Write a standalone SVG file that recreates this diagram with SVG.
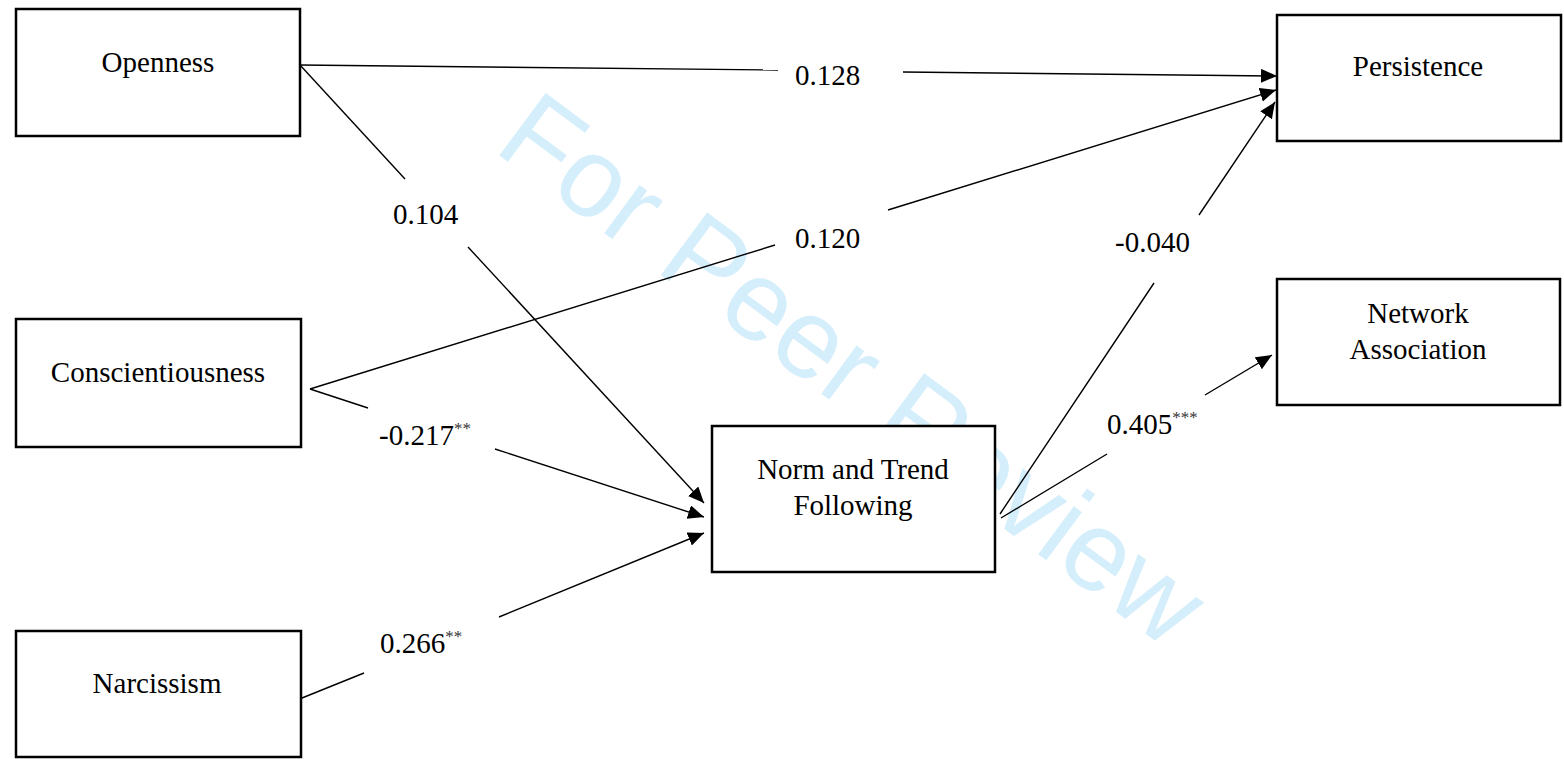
<svg xmlns="http://www.w3.org/2000/svg" width="1564" height="759" viewBox="0 0 1564 759">
<style>
.box{fill:#fff;stroke:#000;stroke-width:2.5}
.t{font-family:"Liberation Serif","Times New Roman",serif;font-size:29px;fill:#000;text-anchor:middle}
.l{font-family:"Liberation Serif","Times New Roman",serif;font-size:29px;fill:#000}
.sup{font-size:17px;fill:#333}
.c{stroke:#000;stroke-width:1.4;fill:none}
.wm{font-family:"Liberation Sans",Arial,sans-serif;font-size:113px;fill:#d4eefb}
</style>
<defs>
<marker id="ah" markerUnits="userSpaceOnUse" markerWidth="17" markerHeight="15" refX="16" refY="7" orient="auto">
<path d="M0,0 L16,7 L0,14 Z" fill="#000"/>
</marker>
</defs>
<rect width="1564" height="759" fill="#fff"/>
<text class="wm" transform="translate(492,150) rotate(36.5)">For Peer Review</text>
<g id="connectors">
<line class="c" x1="300" y1="65" x2="778" y2="70"/>
<line class="c" x1="903" y1="72" x2="1277" y2="76" marker-end="url(#ah)"/>
<line class="c" x1="300" y1="65" x2="405" y2="179"/>
<line class="c" x1="468" y1="247" x2="704" y2="503" marker-end="url(#ah)"/>
<line class="c" x1="310" y1="389" x2="775" y2="245"/>
<line class="c" x1="888" y1="210" x2="1276" y2="90" marker-end="url(#ah)"/>
<line class="c" x1="310" y1="389" x2="368" y2="408"/>
<line class="c" x1="495" y1="449" x2="704" y2="517" marker-end="url(#ah)"/>
<line class="c" x1="302" y1="698" x2="364" y2="673"/>
<line class="c" x1="499" y1="617" x2="704" y2="533" marker-end="url(#ah)"/>
<line class="c" x1="1000" y1="514" x2="1154" y2="283"/>
<line class="c" x1="1199" y1="215" x2="1275" y2="102" marker-end="url(#ah)"/>
<line class="c" x1="1001" y1="518" x2="1107" y2="454"/>
<line class="c" x1="1205" y1="395" x2="1272" y2="355" marker-end="url(#ah)"/>
<text class="l" x="795" y="85">0.128</text>
<text class="l" x="393" y="224">0.104</text>
<text class="l" x="795" y="248">0.120</text>
<text class="l" x="1115" y="252">-0.040</text>
<text class="l" x="379" y="445">-0.217<tspan class="sup" dy="-11">**</tspan></text>
<text class="l" x="1107" y="434">0.405<tspan class="sup" dy="-11">***</tspan></text>
<text class="l" x="380" y="653">0.266<tspan class="sup" dy="-11">**</tspan></text>
</g>
<g id="openness"><rect class="box" x="16" y="9" width="284" height="127"/><text class="t" x="158" y="72">Openness</text></g>
<g id="conscientiousness"><rect class="box" x="16" y="319" width="285" height="128"/><text class="t" x="158" y="382">Conscientiousness</text></g>
<g id="narcissism"><rect class="box" x="16" y="631" width="285" height="126"/><text class="t" x="157" y="693">Narcissism</text></g>
<g id="norm"><rect class="box" x="712" y="426" width="283" height="146"/><text class="t" x="853" y="479">Norm and Trend</text><text class="t" x="853" y="515">Following</text></g>
<g id="persistence"><rect class="box" x="1277" y="15" width="284" height="126"/><text class="t" x="1418" y="76">Persistence</text></g>
<g id="network"><rect class="box" x="1277" y="279" width="283" height="126"/><text class="t" x="1418" y="323">Network</text><text class="t" x="1418" y="359">Association</text></g>
</svg>
